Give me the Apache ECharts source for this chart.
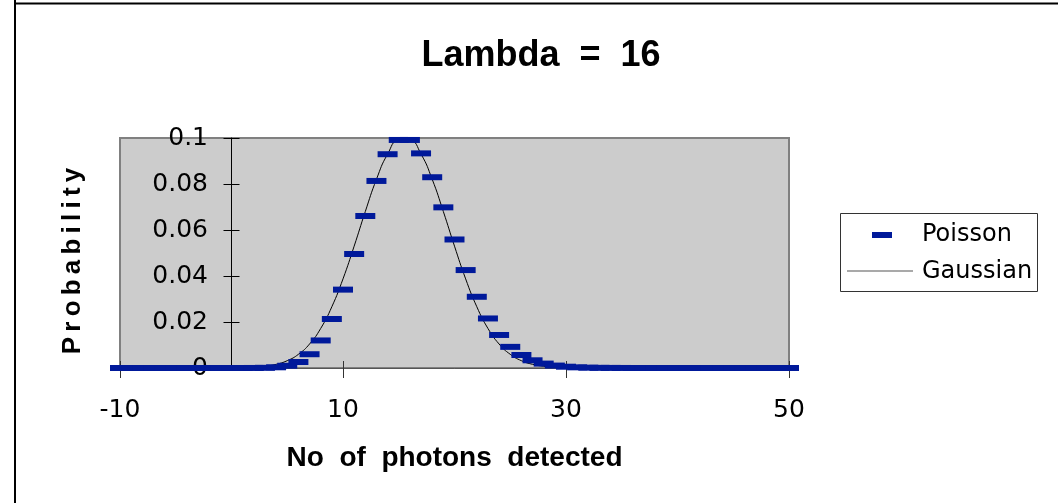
<!DOCTYPE html>
<html>
<head>
<meta charset="utf-8">
<script src="https://cdn.jsdelivr.net/npm/echarts@6/dist/echarts.min.js"></script>
<style>
html,body{margin:0;padding:0;background:#fff;}
#chart{width:1058px;height:503px;}
</style>
</head>
<body>
<div id="chart"></div>
<script>
// ---- data ----
var titleText = 'Lambda  =  16';
var xName = 'No  of  photons  detected';
var yName = 'Probability';
var seriesNames = ['Poisson', 'Gaussian'];
var xValues = [-10,-9,-8,-7,-6,-5,-4,-3,-2,-1,0,1,2,3,4,5,6,7,8,9,10,11,12,13,14,15,16,17,18,19,20,21,22,23,24,25,26,27,28,29,30,31,32,33,34,35,36,37,38,39,40,41,42,43,44,45,46,47,48,49,50];
var poissonValues = [0,0,0,0,0,0,0,0,0,0,
  0.0000001,0.0000018,0.0000144,0.0000768,0.0003071,0.0009826,0.0026204,0.0059894,0.0119789,0.0212959,
  0.0340734,0.0495613,0.0660817,0.0813314,0.0929502,0.0991469,0.0991469,0.0933147,0.0829464,0.0698496,
  0.0558797,0.0425750,0.0309636,0.0215399,0.0143599,0.0091904,0.0056556,0.0033515,0.0019151,0.0010566,
  0.0005635,0.0002908,0.0001454,0.0000705,0.0000332,0.0000152,0.0000067,0.0000029,0.0000012,0.0000005,
  0.0000002,0,0,0,0,0,0,0,0,0,0];
var gaussianValues = [0,0,0,0,0,0,0,0,0,0.00002,
  0.00005,0.00014,0.00034,0.00076,0.00160,0.00318,0.00595,0.01043,0.01720,0.02664,
  0.03875,0.05297,0.06802,0.08204,0.09297,0.09896,0.09896,0.09297,0.08204,0.06802,
  0.05297,0.03875,0.02664,0.01720,0.01043,0.00595,0.00318,0.00160,0.00076,0.00034,
  0.00014,0.00005,0.00002,0,0,0,0,0,0,0,
  0,0,0,0,0,0,0,0,0,0,0];
var xMin = -10, xMax = 50, xStep = 20;
var yMin = 0, yMax = 0.1, yStep = 0.02;

// ---- chart ----
var poissonColor = '#00199A';
var tickFont = 'DejaVu Sans';
var boldFont = 'Liberation Sans';

function pairs(xs, ys){ return xs.map(function(x,i){ return [x, ys[i]]; }); }

var chart = echarts.init(document.getElementById('chart'), null, {renderer:'canvas'});
var option = {
  animation: false,
  backgroundColor: '#ffffff',
  title: {
    text: titleText, left: 536, top: 33, textAlign: 'center',
    textStyle: {fontFamily: boldFont, fontSize: 36, fontWeight: 'bold', color: '#000'}
  },
  grid: {
    left: 120, right: 269, top: 138, bottom: 135,
    show: true, backgroundColor: '#CCCCCC', borderColor: '#808080', borderWidth: 2
  },
  xAxis: [{
    type: 'value', min: xMin, max: xMax, interval: xStep,
    name: xName, nameLocation: 'middle', nameGap: 76,
    nameTextStyle: {fontFamily: boldFont, fontSize: 28, fontWeight: 'bold', color: '#000'},
    axisLine: {show: true, onZero: true, lineStyle: {color: '#555', width: 1}},
    axisTick: {show: true, inside: false, length: 10, lineStyle: {color: '#333'}},
    axisLabel: {show: true, margin: 30, fontFamily: tickFont, fontSize: 25, color: '#000'},
    splitLine: {show: false}
  }, {
    type: 'value', min: xMin, max: xMax, interval: xStep, position: 'bottom',
    axisLine: {show: false},
    axisTick: {show: true, inside: true, length: 7, lineStyle: {color: '#333'}},
    axisLabel: {show: false}, splitLine: {show: false}
  }],
  yAxis: [{
    type: 'value', min: yMin, max: yMax, interval: yStep,
    axisLine: {show: true, onZero: true, lineStyle: {color: '#000', width: 1}},
    axisTick: {show: true, inside: false, length: 8, lineStyle: {color: '#000'}},
    axisLabel: {show: true, margin: -88, fontFamily: tickFont, fontSize: 25, color: '#000'},
    splitLine: {show: false}
  }, {
    type: 'value', min: yMin, max: yMax, interval: yStep, position: 'left',
    axisLine: {show: false, onZero: true},
    axisTick: {show: true, inside: true, length: 8, lineStyle: {color: '#000'}},
    axisLabel: {show: false}, splitLine: {show: false}
  }],
  series: [{
    name: seriesNames[1], type: 'line', xAxisIndex: 0, yAxisIndex: 0,
    data: pairs(xValues, gaussianValues),
    smooth: 0.5, showSymbol: false, symbol: 'none',
    lineStyle: {color: '#000', width: 1}, z: 3
  }, {
    name: seriesNames[0], type: 'scatter', xAxisIndex: 0, yAxisIndex: 0,
    data: pairs(xValues, poissonValues),
    symbol: 'rect', symbolSize: [20, 6],
    itemStyle: {color: poissonColor, opacity: 1}, z: 4
  }],
  graphic: [
    {type: 'rect', shape: {x: 15, y: 3.5, width: 1200, height: 700}, style: {fill: 'none', stroke: '#000', lineWidth: 2}, silent: true},
    {type: 'line', shape: {x1: 15, y1: 0, x2: 15, y2: 4}, style: {stroke: '#000', lineWidth: 2}, silent: true},
    {type: 'text', x: 73, y: 261, rotation: Math.PI / 2,
      style: {text: yName.split('').join('\u2009'), fontFamily: boldFont, fontSize: 26, fontWeight: 'bold', fill: '#000', textAlign: 'center', textVerticalAlign: 'middle'}},
    {type: 'rect', shape: {x: 840.5, y: 213.5, width: 197, height: 78}, style: {fill: '#fff', stroke: '#333', lineWidth: 1}},
    {type: 'rect', shape: {x: 872, y: 232, width: 20, height: 6}, style: {fill: poissonColor}},
    {type: 'text', x: 922, y: 235, style: {text: seriesNames[0], fontFamily: tickFont, fontSize: 24, fill: '#000', textVerticalAlign: 'middle'}},
    {type: 'line', shape: {x1: 847, y1: 271, x2: 913, y2: 271}, style: {stroke: '#555', lineWidth: 1.2}},
    {type: 'text', x: 922, y: 272, style: {text: seriesNames[1], fontFamily: tickFont, fontSize: 24, fill: '#000', textVerticalAlign: 'middle'}}
  ]
};
chart.setOption(option);
</script>
</body>
</html>
